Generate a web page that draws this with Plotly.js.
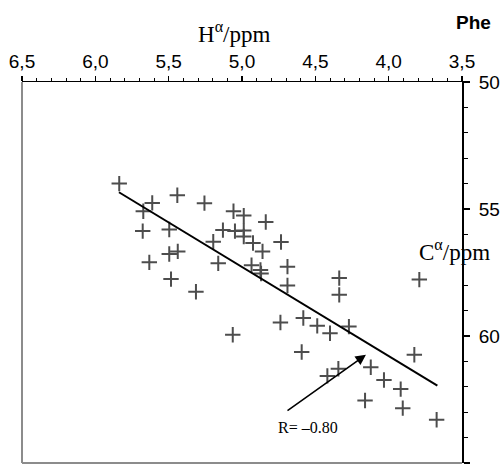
<!DOCTYPE html>
<html>
<head>
<meta charset="utf-8">
<script src="https://cdn.plot.ly/plotly-3.0.1.min.js"></script>
<style>html,body{margin:0;padding:0;background:#fff;}#chart{width:502px;height:471px;}</style>
</head>
<body>
<div id="chart"></div>
<script>
// H-alpha chemical shift (ppm) of each residue
const hAlpha = [5.837, 5.612, 5.441, 5.256, 5.673, 5.058, 4.988, 4.838, 5.677, 5.496,
  5.130, 5.048, 4.988, 4.988, 5.196, 4.925, 4.734, 4.860, 5.496, 5.438,
  5.632, 5.162, 4.935, 4.874, 4.870, 4.690, 5.484, 4.690, 5.314, 4.738,
  5.063, 4.337, 4.337, 3.791, 4.582, 4.487, 4.400, 4.271, 4.593, 3.825,
  4.343, 4.418, 4.122, 4.032, 3.918, 4.161, 3.904, 3.673];
// C-alpha chemical shift (ppm) of each residue
const cAlpha = [54.00, 54.76, 54.46, 54.77, 55.09, 55.09, 55.26, 55.51, 55.87, 55.81,
  55.83, 55.87, 55.85, 56.08, 56.29, 56.34, 56.30, 56.67, 56.77, 56.67,
  57.10, 57.14, 57.21, 57.40, 57.54, 57.27, 57.76, 58.01, 58.26, 59.47,
  59.95, 57.72, 58.38, 57.78, 59.29, 59.60, 59.89, 59.63, 60.63, 60.74,
  61.29, 61.57, 61.23, 61.73, 62.09, 62.54, 62.84, 63.30];
// regression line end points
const fitH = [5.839, 3.668];
const fitC = [54.34, 61.95];
// arrow (tail -> head) and label
const arrowTail = [4.700, 62.98];
const arrowHead = [4.155, 60.74];
const labelPos = [4.55, 63.62];
const rLabel = 'R= \u20130.80';
const xTicks = [6.5, 6.0, 5.5, 5.0, 4.5, 4.0, 3.5];
const yTicks = [50, 55, 60, 65];

const traces = [
  {x: hAlpha, y: cAlpha, type: 'scatter', mode: 'markers', cliponaxis: false,
   marker: {symbol: 'cross-thin', size: 11, line: {width: 2, color: '#4d4d4d'}, color: '#4d4d4d'},
   hoverinfo: 'skip'},
  {x: fitH, y: fitC, type: 'scatter', mode: 'lines',
   line: {color: '#000', width: 2}, hoverinfo: 'skip'}
];

const layout = {
  width: 502, height: 471,
  margin: {l: 22, r: 40, t: 82, b: 8, pad: 0},
  paper_bgcolor: '#fff', plot_bgcolor: '#fff',
  separators: ',.',
  showlegend: false,
  font: {family: 'Liberation Sans, Arial, sans-serif', color: '#000'},
  xaxis: {
    side: 'top', range: [6.5, 3.5], autorange: false,
    tickvals: xTicks, tickformat: '.1f',
    ticks: 'outside', ticklen: 5, tickwidth: 1.2, tickcolor: '#000',
    minor: {dtick: 0.1, ticks: 'outside', ticklen: 3, tickwidth: 1, tickcolor: '#000'},
    showline: true, linecolor: '#000', linewidth: 1.5,
    showgrid: false, zeroline: false,
    tickfont: {size: 19, family: 'Liberation Sans, Arial, sans-serif'}
  },
  yaxis: {
    side: 'right', range: [65, 50], autorange: false,
    tickvals: yTicks,
    ticks: 'outside', ticklen: 6, tickwidth: 1.2, tickcolor: '#000',
    ticklabelstandoff: 5,
    minor: {dtick: 1, ticks: 'outside', ticklen: 4, tickwidth: 1, tickcolor: '#000'},
    showline: true, linecolor: '#000', linewidth: 2,
    showgrid: false, zeroline: false,
    tickfont: {size: 19, family: 'Liberation Sans, Arial, sans-serif'}
  },
  shapes: [
    {type: 'line', xref: 'paper', yref: 'paper', x0: 0, x1: 0, y0: 0, y1: 1,
     line: {color: '#8c8c8c', width: 2}},
    {type: 'line', xref: 'paper', yref: 'paper', x0: 0, x1: 1, y0: 0, y1: 0,
     line: {color: '#8c8c8c', width: 2}}
  ],
  annotations: [
    {xref: 'x', yref: 'y', axref: 'x', ayref: 'y',
     x: arrowHead[0], y: arrowHead[1], ax: arrowTail[0], ay: arrowTail[1],
     text: '', showarrow: true, arrowhead: 2, arrowsize: 1.3, arrowwidth: 1.6, arrowcolor: '#000'},
    {xref: 'x', yref: 'y', x: labelPos[0], y: labelPos[1], text: rLabel, showarrow: false,
     font: {family: 'Liberation Serif, Times New Roman, serif', size: 16, color: '#000'}},
    {xref: 'paper', yref: 'paper', x: 0.482, y: 1.13, xanchor: 'center', yanchor: 'middle',
     text: 'H<sup>\u03b1</sup>/ppm', showarrow: false,
     font: {family: 'Liberation Serif, Times New Roman, serif', size: 23, color: '#000'}},
    {xref: 'paper', yref: 'paper', x: 0.984, y: 0.558, xanchor: 'center', yanchor: 'middle',
     text: 'C<sup>\u03b1</sup>/ppm', showarrow: false,
     font: {family: 'Liberation Serif, Times New Roman, serif', size: 23, color: '#000'}},
    {xref: 'paper', yref: 'paper', x: 1.027, y: 1.157, xanchor: 'center', yanchor: 'middle',
     text: '<b>Phe</b>', showarrow: false,
     font: {family: 'Liberation Sans, Arial, sans-serif', size: 19, color: '#000'}}
  ]
};

Plotly.newPlot('chart', traces, layout, {staticPlot: true, displayModeBar: false});
</script>
</body>
</html>
